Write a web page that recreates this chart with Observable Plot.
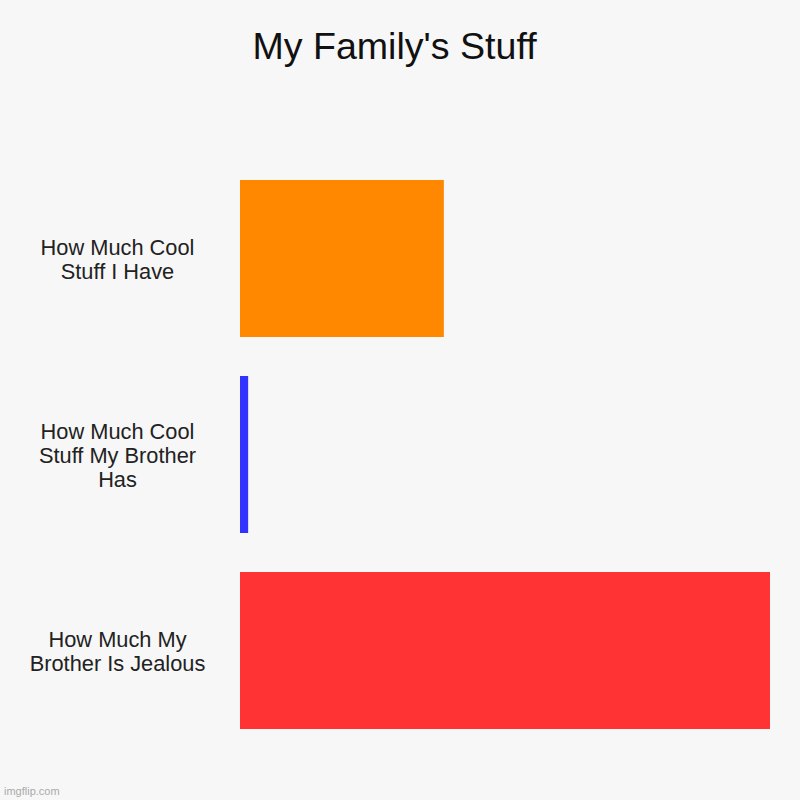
<!DOCTYPE html>
<html>
<head>
<meta charset="utf-8">
<script src="https://cdn.jsdelivr.net/npm/d3@7"></script>
<script src="https://cdn.jsdelivr.net/npm/@observablehq/plot@0.6"></script>
<style>
  html, body { margin: 0; padding: 0; background: #f7f7f7; }
  #wrap { position: relative; width: 800px; height: 800px; background: #f7f7f7; font-family: "Liberation Sans", Arial, sans-serif; }
  #title { margin: 0; padding-top: 28px; padding-right: 11px; height: 72px; box-sizing: content-box; line-height: 37px; font-size: 37.6px; text-align: center; color: #111; font-weight: normal; }
  #wm { position: absolute; left: 4px; bottom: 3px; font-size: 11px; color: #aaa; }
  svg { display: block; }
</style>
</head>
<body>
<div id="wrap">
  <div id="title">My Family's Stuff</div>
  <div id="chart"></div>
  <div id="wm">imgflip.com</div>
</div>
<script>
const categories = ["cool_me", "cool_brother", "jealous"];
const tickLabels = [
  "How Much Cool\nStuff I Have",
  "How Much Cool\nStuff My Brother\nHas",
  "How Much My\nBrother Is Jealous"
];
const values = [5, 0.2, 13];
const colors = ["#ff8800", "#3333ff", "#ff3333"];

const data = categories.map((c, i) => ({category: c, value: values[i], color: colors[i]}));
const labelOf = new Map(categories.map((c, i) => [c, tickLabels[i]]));

const chart = Plot.plot({
  width: 800,
  height: 700,
  marginTop: 59.8,
  marginBottom: 50.15,
  marginLeft: 240,
  marginRight: 30,
  style: {background: "transparent", fontFamily: "'Liberation Sans', Arial, sans-serif"},
  x: {domain: [0, 13], axis: null},
  y: {domain: categories, paddingInner: 0.2, paddingOuter: 0.1, label: null},
  marks: [
    Plot.barX(data, {x: "value", y: "category", fill: "color"}),
    Plot.axisY({
      label: null,
      tickSize: 0,
      tickPadding: 0,
      textAnchor: "middle",
      dx: -123,
      fontSize: 21.8,
      lineHeight: 1.1,
      fill: "#222",
      tickFormat: d => labelOf.get(d)
    })
  ]
});
document.getElementById("chart").appendChild(chart);
</script>
</body>
</html>
